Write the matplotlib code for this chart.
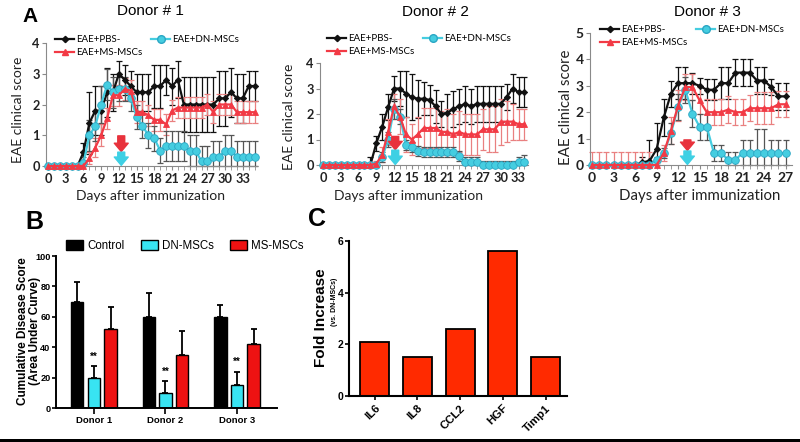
import matplotlib
matplotlib.use('Agg')
import matplotlib.pyplot as plt
import numpy as np
from matplotlib.lines import Line2D
from matplotlib.patches import Rectangle

W, H = 800, 442

# ---------------- panel A: EAE clinical score per donor ----------------
d1_pbs = [0, 0, 0, 0, 0, 0, 0.45, 1.4, 1.8, 1.8, 2.4, 2.4, 3.0, 2.8, 2.6, 2.4, 2.4, 2.4,
          2.6, 2.6, 2.8, 2.6, 2.8, 2.0, 2.0, 2.0, 2.0, 2.0, 2.0, 2.2, 2.2, 2.4, 2.2, 2.2, 2.6, 2.6]
d1_pbs_err = [0, 0, 0, 0, 0, 0, 0.3, 1.0, 0.8, 0.8, 0.8, 0.6, 0.4, 0.5, 0.5, 0.6, 0.6, 0.6,
              0.7, 0.7, 0.5, 0.6, 0.6, 0.9, 0.9, 0.9, 0.9, 0.9, 0.9, 0.9, 0.9, 0.8, 0.8, 0.8, 0.5, 0.5]
d1_dn = [0, 0, 0, 0, 0, 0, 0.1, 1.0, 1.3, 2.0, 2.65, 2.4, 2.5, 2.5, 2.2, 1.6, 1.3, 1.0,
         0.9, 0.5, 0.65, 0.65, 0.65, 0.65, 0.5, 0.5, 0.15, 0.15, 0.3, 0.3, 0.5, 0.5, 0.3, 0.3, 0.3, 0.3]
d1_dn_err = [0, 0, 0, 0, 0, 0, 0.2, 0.5, 0.5, 0.6, 0.5, 0.5, 0.4, 0.4, 0.4, 0.4, 0.4, 0.4,
             0.4, 0.4, 0.5, 0.5, 0.5, 0.5, 0.5, 0.5, 0.5, 0.5, 0.5, 0.5, 0.5, 0.5, 0.5, 0.5, 0.5, 0.5]
d1_ms = [0, 0, 0, 0, 0, 0, 0, 0.25, 0.6, 1.0, 1.55, 2.3, 2.3, 2.5, 2.45, 1.75, 1.75, 1.65,
         1.5, 1.5, 1.35, 1.8, 1.9, 1.9, 1.9, 1.9, 1.9, 2.0, 1.75, 2.0, 2.0, 2.0, 1.75, 1.75, 1.75, 1.75]
d1_ms_err = [0, 0, 0, 0, 0, 0, 0, 0.2, 0.3, 0.35, 0.35, 0.35, 0.35, 0.35, 0.35, 0.35, 0.35, 0.35,
             0.35, 0.35, 0.35, 0.35, 0.35, 0.35, 0.35, 0.35, 0.35, 0.35, 0.35, 0.35, 0.35, 0.35, 0.35, 0.35, 0.35, 0.35]

d2_pbs = [0, 0, 0, 0, 0, 0, 0, 0, 0, 0.85, 1.5, 2.27, 3.0, 3.0, 2.8, 2.66, 2.6, 2.6,
          2.55, 2.3, 2.0, 2.05, 2.2, 2.3, 2.4, 2.3, 2.4, 2.4, 2.4, 2.4, 2.4, 2.66, 3.0, 2.86, 2.86]
d2_pbs_err = [0, 0, 0, 0, 0, 0, 0, 0, 0.3, 0.3, 0.5, 0.5, 0.5, 0.7, 0.9, 0.9, 0.75, 0.65,
              0.6, 0.65, 0.5, 0.75, 0.7, 0.7, 0.7, 0.7, 0.7, 0.7, 0.7, 0.7, 0.7, 0.5, 0.57, 0.6, 0.6]
d2_dn = [0, 0, 0, 0, 0, 0, 0, 0, 0, 0, 0.3, 1.0, 2.2, 1.9, 0.8, 0.7, 0.55, 0.5,
         0.5, 0.5, 0.5, 0.5, 0.5, 0.35, 0.1, 0.1, 0.1, 0, 0, 0, 0, 0, 0, 0.1, 0.1]
d2_dn_err = [0, 0, 0, 0, 0, 0, 0, 0, 0, 0, 0.2, 0.3, 0.4, 0.3, 0.2, 0.2, 0.2, 0.2,
             0.2, 0.2, 0.2, 0.2, 0.2, 0.2, 0.2, 0.2, 0.2, 0.15, 0.15, 0.15, 0.15, 0.15, 0.15, 0.2, 0.3]
d2_ms = [0, 0, 0, 0, 0, 0, 0, 0, 0, 0.05, 0.4, 1.3, 2.3, 1.9, 1.2, 1.0, 1.2, 1.45,
         1.45, 1.45, 1.3, 1.3, 1.2, 1.3, 1.2, 1.2, 1.2, 1.4, 1.4, 1.4, 1.7, 1.7, 1.7, 1.6, 1.6]
d2_ms_err = [0, 0, 0, 0, 0, 0, 0, 0, 0, 0.1, 0.3, 0.5, 0.5, 0.7, 0.7, 0.6, 0.7, 0.8,
             0.8, 0.8, 0.8, 0.9, 0.8, 0.8, 0.8, 0.8, 0.8, 0.8, 0.9, 0.9, 0.9, 0.8, 0.7, 0.6, 0.6]

d3_pbs = [0, 0, 0, 0, 0, 0, 0, 0.1, 0.15, 0.6, 1.8, 2.7, 3.1, 3.1, 3.1, 3.0, 2.85, 2.85,
          3.1, 3.1, 3.5, 3.5, 3.5, 3.2, 3.2, 2.95, 2.6, 2.6]
d3_pbs_err = [0, 0, 0, 0, 0, 0, 0, 0.2, 0.8, 1.0, 0.7, 0.5, 0.6, 0.6, 0.4, 0.3, 0.4, 0.4,
              0.6, 0.6, 0.5, 0.5, 0.5, 0.5, 0.5, 0.3, 0.5, 0.5]
d3_dn = [0, 0, 0, 0, 0, 0, 0, 0, 0, 0.2, 0.45, 1.2, 2.2, 2.85, 1.95, 1.45, 1.45, 0.45,
         0.45, 0.2, 0.2, 0.45, 0.45, 0.45, 0.45, 0.45, 0.45, 0.45]
d3_dn_err = [0, 0, 0, 0, 0, 0, 0, 0, 0, 0.1, 0.2, 0.4, 0.5, 0.5, 0.5, 0.5, 0.5, 0.3,
             0.3, 0.3, 0.3, 0.5, 0.5, 0.9, 0.9, 0.5, 0.5, 0.5]
d3_ms = [0, 0, 0, 0, 0, 0, 0, 0, 0, 0, 0.45, 1.3, 2.25, 2.95, 2.95, 2.45, 2.0, 2.0,
         2.0, 2.1, 2.0, 2.0, 2.15, 2.15, 2.15, 2.15, 2.3, 2.3]
d3_ms_err = [0.5, 0.5, 0.5, 0.5, 0.5, 0.5, 0.5, 0.5, 0.5, 0, 0.3, 0.5, 0.6, 0.5, 0.5, 0.5, 0.5, 0.5,
             0.5, 0.5, 0.5, 0.5, 0.5, 0.6, 0.6, 0.6, 0.5, 0.5]

series_names = ['EAE+PBS-', 'EAE+DN-MSCs', 'EAE+MS-MSCs']

# ---------------- panel B: cumulative disease score ----------------
donors = ['Donor 1', 'Donor 2', 'Donor 3']
auc_ctrl = [70, 60, 60]
auc_ctrl_err = [13, 15.5, 8]
auc_dn = [20, 10, 15]
auc_dn_err = [7.5, 7.5, 9]
auc_ms = [52, 35, 42]
auc_ms_err = [14.5, 15.5, 10]

# ---------------- panel C: fold increase ----------------
genes = ['IL6', 'IL8', 'CCL2', 'HGF', 'Timp1']
fold = [2.1, 1.52, 2.6, 5.6, 1.52]

BLACK = '#111111'
CYAN = '#45cde0'
CYAN_E = '#2aa6c4'
RED = '#f23a45'
RED_E = '#e98080'
AX_GRAY = '#8a8a8a'
XL = 'Lato'

fig = plt.figure(figsize=(8, 4.42), dpi=100)


def box(l, t, r, b):
    return [l / W, 1 - b / H, (r - l) / W, (b - t) / H]


def donor_panel(rect, xlim, ymax, ndays, data, arrow_x, arrow_top, arrow_mid,
                title, title_xy, leg_xy, ylab_xy, xlab_xy, fs):
    ax = fig.add_axes(rect)
    days = np.arange(ndays)
    styles = [(BLACK, BLACK, 'D', 3.2, BLACK, BLACK),
              (CYAN, '#555555', 'o', 5.5, CYAN, CYAN_E),
              (RED, RED_E, '^', 4.2, RED, RED)]
    for i in [0, 2, 1]:
        vals, errs = data[i]
        col, ecol, mk, msz, mfc, mec = styles[i]
        vals = np.array(vals, float)
        errs = np.array(errs, float)
        low = np.minimum(errs, vals)
        eb = ax.errorbar(days, vals, yerr=[low, errs], fmt='none', ecolor=ecol,
                         elinewidth=0.9, capsize=2.2, capthick=0.9, zorder=2)
        for a in list(eb.lines[1]) + list(eb.lines[2]):
            a.set_clip_on(False)
        ax.plot(days, vals, color=col, lw=1.6, marker=mk, ms=msz, mfc=mfc, mec=mec,
                mew=0.6, clip_on=False, zorder=3 + i)
    # treatment arrows
    astyle = 'simple,head_width=1.0,head_length=0.6,tail_width=0.5'
    ax.annotate('', xy=(arrow_x, arrow_mid), xytext=(arrow_x, arrow_top),
                arrowprops=dict(arrowstyle=astyle, color='#e8323c', mutation_scale=10,
                                shrinkA=0, shrinkB=0), zorder=6)
    ax.annotate('', xy=(arrow_x, 0.02), xytext=(arrow_x, arrow_mid - 0.02),
                arrowprops=dict(arrowstyle=astyle, color='#3ed0e4', mutation_scale=10,
                                shrinkA=0, shrinkB=0), zorder=6)
    ax.set_xlim(*xlim)
    ax.set_ylim(0, ymax)
    ax.set_xticks(np.arange(0, ndays, 3))
    ax.set_xticks(np.arange(0, ndays), minor=True)
    ax.set_yticks(np.arange(0, ymax + 1))
    for s in ['top', 'right']:
        ax.spines[s].set_visible(False)
    for s in ['left', 'bottom']:
        ax.spines[s].set_color(AX_GRAY)
        ax.spines[s].set_linewidth(0.8)
    ax.tick_params(axis='x', which='both', length=3, color=AX_GRAY, pad=2,
                   labelsize=fs, labelcolor='#222222')
    ax.tick_params(axis='y', length=3, color=AX_GRAY, pad=1.5, labelsize=fs,
                   labelcolor='#222222')
    for lab in ax.get_xticklabels() + ax.get_yticklabels():
        lab.set_fontfamily(XL)
        lab.set_fontweight('bold')
    fig.text(title_xy[0] / W, 1 - title_xy[1] / H, title, ha='center', va='center',
             fontsize=11, family='Liberation Sans')
    fig.text(ylab_xy[0] / W, 1 - ylab_xy[1] / H, 'EAE clinical score', rotation=90,
             ha='center', va='center', fontsize=fs + 0.8, family=XL, color='#222222')
    fig.text(xlab_xy[0] / W, 1 - xlab_xy[1] / H, 'Days after immunization',
             ha='center', va='center', fontsize=fs + 0.8, family=XL, color='#222222')
    handles = [Line2D([], [], color=styles[i][0], marker=styles[i][2], ms=styles[i][3],
                      mfc=styles[i][4], mec=styles[i][5], lw=1.6) for i in range(3)]
    ax.legend([handles[0], handles[2], handles[1]],
              [series_names[0], series_names[2], series_names[1]],
              ncol=2, loc='upper left', bbox_to_anchor=(leg_xy[0] / W, 1 - leg_xy[1] / H),
              bbox_transform=fig.transFigure, frameon=False, borderpad=0, borderaxespad=0,
              handlelength=2.0, handletextpad=0.15, columnspacing=0.9, labelspacing=0.45,
              prop={'family': XL, 'size': 7})
    return ax


donor_panel(box(46, 43, 257, 166), (-0.35, 35.4), 4, 36,
            [(d1_pbs, d1_pbs_err), (d1_dn, d1_dn_err), (d1_ms, d1_ms_err)],
            12.4, 0.98, 0.47, 'Donor # 1', (150, 11), (55, 35), (18, 110), (150, 196), 9.2)
donor_panel(box(320, 63, 528, 165), (-0.5, 34.6), 4, 35,
            [(d2_pbs, d2_pbs_err), (d2_dn, d2_dn_err), (d2_ms, d2_ms_err)],
            12.2, 1.12, 0.6, 'Donor # 2', (435, 12), (327, 34), (289, 117), (409, 196), 9.2)
donor_panel(box(590, 33, 792, 165), (-0.3, 27.9), 5, 28,
            [(d3_pbs, d3_pbs_err), (d3_dn, d3_dn_err), (d3_ms, d3_ms_err)],
            13.3, 0.95, 0.55, 'Donor # 3', (707, 12), (600, 25), (566, 107), (700, 196), 10)

fig.text(30 / W, 1 - 16 / H, 'A', ha='center', va='center', fontsize=15,
         fontweight='bold', family='Liberation Sans')

# ---------------- panel B ----------------
axb = fig.add_axes(box(56, 256, 277, 408))
xg = np.arange(len(donors))
off, bw = 0.233, 0.175
ek = dict(ecolor='black', elinewidth=1.3, capsize=2.4, capthick=1.3)
axb.bar(xg - off, auc_ctrl, bw, color='black', edgecolor='black', lw=1,
        yerr=[[0] * 3, auc_ctrl_err], error_kw=ek, label='Control')
axb.bar(xg, auc_dn, bw, color='#38e4f2', edgecolor='black', lw=1,
        yerr=[[0] * 3, auc_dn_err], error_kw=ek, label='DN-MSCs')
axb.bar(xg + off, auc_ms, bw, color='#ee1212', edgecolor='black', lw=1,
        yerr=[[0] * 3, auc_ms_err], error_kw=ek, label='MS-MSCs')
for i in range(3):
    axb.text(xg[i], auc_dn[i] + auc_dn_err[i] + 3, '**', ha='center', va='bottom',
             fontsize=7, fontweight='bold', family='Liberation Sans')
axb.set_xlim(-0.53, 2.56)
axb.set_ylim(0, 100)
axb.set_yticks(np.arange(0, 101, 20))
axb.set_xticks(xg)
axb.set_xticklabels(donors)
for s in ['top', 'right']:
    axb.spines[s].set_visible(False)
for s in ['left', 'bottom']:
    axb.spines[s].set_linewidth(1.4)
axb.tick_params(axis='x', length=4, width=1.2, pad=2, labelsize=6.8)
axb.tick_params(axis='y', length=3, width=1.2, pad=1, labelsize=6.6)
for lab in axb.get_xticklabels():
    lab.set_fontweight('bold')
    lab.set_family('Liberation Sans')
for lab in axb.get_yticklabels():
    lab.set_fontweight('bold')
    lab.set_family('Liberation Sans')
axb.legend(ncol=3, loc='lower left', bbox_to_anchor=(66 / W, 1 - 252 / H),
           bbox_transform=fig.transFigure, frameon=False, borderpad=0, borderaxespad=0,
           handlelength=1.5, handleheight=1.0, handletextpad=0.35, columnspacing=1.4,
           prop={'family': 'Liberation Sans', 'size': 8.3})
fig.text(23 / W, 1 - 331 / H, 'Cumulative Disease Score', rotation=90, ha='center',
         va='center', fontsize=8.5, fontweight='bold', family='Liberation Sans')
fig.text(35 / W, 1 - 331 / H, '(Area Under Curve)', rotation=90, ha='center',
         va='center', fontsize=8.5, fontweight='bold', family='Liberation Sans')
fig.text(34 / W, 1 - 222 / H, 'B', ha='center', va='center', fontsize=18,
         fontweight='bold', family='Liberation Sans')

# ---------------- panel C ----------------
axc = fig.add_axes(box(349, 241, 567, 396))
xc = np.arange(len(genes))
axc.bar(xc, fold, 0.68, color='#ff2a00', edgecolor='black', lw=1.3)
axc.set_xlim(-0.6, 4.5)
axc.set_ylim(0, 6)
axc.set_yticks([0, 2, 4, 6])
axc.set_xticks(xc)
axc.set_xticklabels(genes, rotation=45, ha='right', rotation_mode='anchor')
for s in ['top', 'right']:
    axc.spines[s].set_visible(False)
for s in ['left', 'bottom']:
    axc.spines[s].set_linewidth(1.5)
axc.tick_params(axis='x', length=3, width=1.2, pad=2, labelsize=8.2)
axc.tick_params(axis='y', length=3, width=1.2, pad=1, labelsize=7.5)
for lab in axc.get_xticklabels() + axc.get_yticklabels():
    lab.set_fontweight('bold')
    lab.set_family('Liberation Sans')
fig.text(321 / W, 1 - 318 / H, 'Fold Increase', rotation=90, ha='center', va='center',
         fontsize=11, fontweight='bold', family='Liberation Sans')
fig.text(334 / W, 1 - 302 / H, '(vs. DN-MSCs)', rotation=90, ha='center', va='center',
         fontsize=5, fontweight='bold', family='Liberation Sans')
fig.text(317 / W, 1 - 219 / H, 'C', ha='center', va='center', fontsize=18,
         fontweight='bold', family='Liberation Sans')

# dark border strip along the bottom edge
fig.add_artist(Rectangle((0, 0), 1, 3 / H, transform=fig.transFigure,
                         color='black', lw=0))

fig.savefig('out.png', dpi=100)
